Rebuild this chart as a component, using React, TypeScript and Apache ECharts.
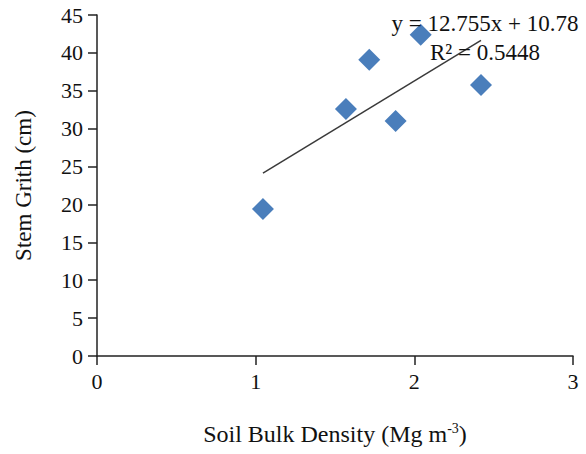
import React, { useEffect, useRef } from "react";
import * as echarts from "echarts";

const bulkDensity = [1.046, 1.569, 1.716, 1.882, 2.04, 2.42];
const stemGirth = [19.4, 32.6, 39.1, 31.0, 42.4, 35.75];
const slope = 12.755;
const intercept = 10.78;
const equationText = "y = 12.755x + 10.78";
const r2Text = "R² = 0.5448";
const xTitle = "Soil Bulk Density (Mg m";
const yTitle = "Stem Grith (cm)";

const FONT = "'Liberation Serif', 'Times New Roman', serif";
const INK = "#111";

export default function App() {
  const ref = useRef<HTMLDivElement>(null);
  useEffect(() => {
    if (!ref.current) return;
    const chart = echarts.init(ref.current, null, { renderer: "svg" });
    const xMin = Math.min(...bulkDensity);
    const xMax = Math.max(...bulkDensity);
    const trend = [
      [xMin, slope * xMin + intercept],
      [xMax, slope * xMax + intercept],
    ];
    chart.setOption({
      animation: false,
      backgroundColor: "#ffffff",
      textStyle: { fontFamily: FONT },
      grid: { left: 97, right: 13, top: 15, bottom: 98 },
      xAxis: {
        type: "value",
        min: 0,
        max: 3,
        interval: 1,
        name: "{a|" + xTitle + "}{s|-3}{a|)}",
        nameLocation: "middle",
        nameGap: 65,
        nameTextStyle: {
          rich: {
            a: { fontFamily: FONT, fontSize: 24, color: INK },
            s: { fontFamily: FONT, fontSize: 14, color: INK, verticalAlign: "top", padding: [0, 0, 11, 0] },
          },
        },
        axisLine: { lineStyle: { color: "#222", width: 1.5 } },
        axisTick: { length: 9, lineStyle: { color: "#222", width: 1.5 } },
        axisLabel: { fontFamily: FONT, fontSize: 22, color: INK, margin: 14 },
        splitLine: { show: false },
      },
      yAxis: {
        type: "value",
        min: 0,
        max: 45,
        interval: 5,
        name: yTitle,
        nameLocation: "middle",
        nameGap: 62,
        nameTextStyle: { fontFamily: FONT, fontSize: 23, color: INK },
        axisLine: { lineStyle: { color: "#222", width: 1.5 } },
        axisTick: { length: 9, lineStyle: { color: "#222", width: 1.5 } },
        axisLabel: { fontFamily: FONT, fontSize: 22, color: INK, margin: 14 },
        splitLine: { show: false },
      },
      series: [
        {
          type: "line",
          data: trend,
          symbol: "none",
          lineStyle: { color: "#3a3a3a", width: 1.5 },
          z: 2,
        },
        {
          type: "scatter",
          data: bulkDensity.map((x, i) => [x, stemGirth[i]]),
          symbol: "diamond",
          symbolSize: [22, 22],
          itemStyle: { color: "#4a7ebb", opacity: 1 },
          z: 3,
        },
      ],
      graphic: [
        {
          type: "text",
          x: 485,
          y: 23,
          z: 10,
          style: {
            text: equationText,
            fontFamily: FONT,
            fontSize: 23,
            fill: INK,
            textAlign: "center",
            textVerticalAlign: "middle",
          },
        },
        {
          type: "text",
          x: 485,
          y: 52,
          z: 10,
          style: {
            text: r2Text,
            fontFamily: FONT,
            fontSize: 23,
            fill: INK,
            textAlign: "center",
            textVerticalAlign: "middle",
          },
        },
      ],
    });
    return () => chart.dispose();
  }, []);
  return <div ref={ref} style={{ width: 586, height: 454, position: "absolute", left: 0, top: 0 }} />;
}
